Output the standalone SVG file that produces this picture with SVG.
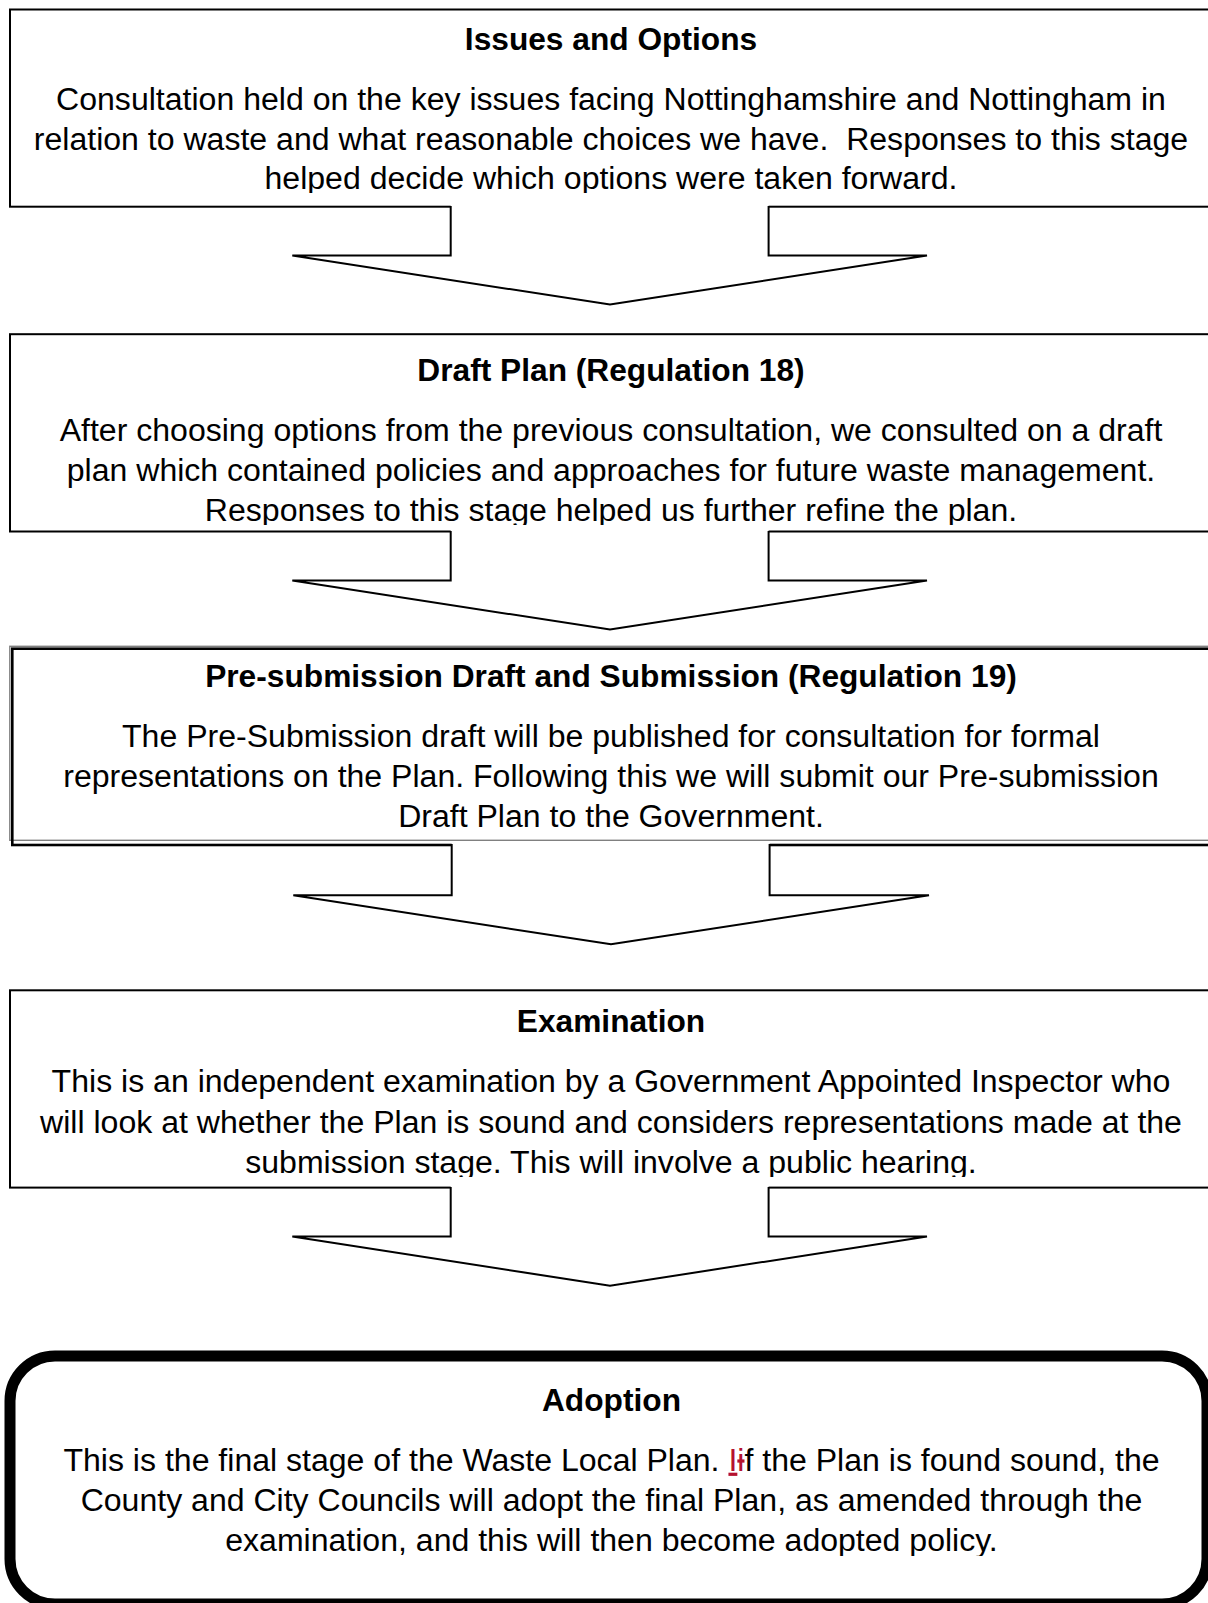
<svg xmlns="http://www.w3.org/2000/svg" width="1208" height="1603" viewBox="0 0 1208 1603">
<style>
  .box { fill: #ffffff; stroke: #000000; stroke-width: 2; }
  .t { font-family: "Liberation Sans", Arial, sans-serif; font-size: 32.05px; fill: #000000; text-anchor: middle; white-space: pre; }
  .b { font-weight: bold; font-size: 31.7px; }
  .shaft { fill: #ffffff; stroke: none; }
  .arrow { fill: none; stroke: #000000; stroke-width: 2; stroke-linejoin: miter; }
  .chg { fill: #b5122f; }
</style>
<defs>
  <clipPath id="c1"><rect x="0" y="0" width="1208" height="193"/></clipPath>
  <clipPath id="c2"><rect x="0" y="300" width="1208" height="225"/></clipPath>
  <clipPath id="c3"><rect x="0" y="640" width="1208" height="195"/></clipPath>
  <clipPath id="c4"><rect x="0" y="980" width="1208" height="197"/></clipPath>
  <clipPath id="c5"><rect x="0" y="1360" width="1208" height="196"/></clipPath>
</defs>
<rect x="0" y="0" width="1208" height="1603" fill="#ffffff"/>

<g id="node-issues">
  <rect class="box" x="10" y="9.5" width="1220" height="197.2"/>
  <g clip-path="url(#c1)">
    <text class="t b" x="611" y="50">Issues and Options</text>
    <text class="t" x="611" y="110">Consultation held on the key issues facing Nottinghamshire and Nottingham in</text>
    <text class="t" x="611" y="149.5">relation to waste and what reasonable choices we have.  Responses to this stage</text>
    <text class="t" x="611" y="189.3">helped decide which options were taken forward.</text>
  </g>
</g>

<g id="node-draft">
  <rect class="box" x="10" y="334.2" width="1220" height="197.3"/>
  <g clip-path="url(#c2)">
    <text class="t b" x="611" y="380.5">Draft Plan (Regulation 18)</text>
    <text class="t" x="611" y="440.5">After choosing options from the previous consultation, we consulted on a draft</text>
    <text class="t" x="611" y="481">plan which contained policies and approaches for future waste management.</text>
    <text class="t" x="611" y="521">Responses to this stage helped us further refine the plan.</text>
  </g>
</g>

<g id="node-presubmission">
  <rect x="9.8" y="646.3" width="1220" height="194" fill="#ffffff" stroke="#808080" stroke-width="1.4"/>
  <rect x="12.3" y="648.7" width="1220" height="196.3" fill="none" stroke="#000000" stroke-width="2.6"/>
  <g clip-path="url(#c3)">
    <text class="t b" x="611" y="687">Pre-submission Draft and Submission (Regulation 19)</text>
    <text class="t" x="611" y="747">The Pre-Submission draft will be published for consultation for formal</text>
    <text class="t" x="611" y="787">representations on the Plan. Following this we will submit our Pre-submission</text>
    <text class="t" x="611" y="826.6">Draft Plan to the Government.</text>
  </g>
</g>

<g id="node-examination">
  <rect class="box" x="10" y="990.3" width="1220" height="197.3"/>
  <g clip-path="url(#c4)">
    <text class="t b" x="611" y="1032">Examination</text>
    <text class="t" x="611" y="1092.3">This is an independent examination by a Government Appointed Inspector who</text>
    <text class="t" x="611" y="1132.5">will look at whether the Plan is sound and considers representations made at the</text>
    <text class="t" x="611" y="1173">submission stage. This will involve a public hearing.</text>
  </g>
</g>

<g id="node-adoption">
  <rect x="10" y="1356" width="1197" height="248" rx="45" ry="45" fill="#ffffff" stroke="#000000" stroke-width="11"/>
  <g clip-path="url(#c5)">
    <text class="t b" x="611.5" y="1410.5">Adoption</text>
    <text class="t" x="611.5" y="1470.7">This is the final stage of the Waste Local Plan. <tspan class="chg" text-decoration="underline">I</tspan><tspan class="chg" text-decoration="line-through">i</tspan>f the Plan is found sound, the</text>
    <text class="t" x="611.5" y="1511">County and City Councils will adopt the final Plan, as amended through the</text>
    <text class="t" x="611.5" y="1550.7">examination, and this will then become adopted policy.</text>
  </g>
</g>

<g id="connectors">
  <path class="shaft" d="M450.7,203.5 V255.5 H292.3 L610,304.6 L927,255.5 H768.6 V203.5 Z"/>
  <path class="arrow" d="M450.7,206 V255.5 H292.3 L610,304.6 L927,255.5 H768.6 V206"/>
  <path class="shaft" d="M450.7,528.5 V580.5 H292.3 L610,629.6 L927,580.5 H768.6 V528.5 Z"/>
  <path class="arrow" d="M450.7,531 V580.5 H292.3 L610,629.6 L927,580.5 H768.6 V531"/>
  <path class="shaft" d="M451.7,842.6 V895.3 H293.3 L611,944.3 L929,895.3 H769.6 V842.6 Z"/>
  <path class="arrow" d="M451.7,844 V895.3 H293.3 L611,944.3 L929,895.3 H769.6 V844"/>
  <path class="shaft" d="M450.7,1184.6 V1236.6 H292.3 L610,1285.7 L927,1236.6 H768.6 V1184.6 Z"/>
  <path class="arrow" d="M450.7,1187 V1236.6 H292.3 L610,1285.7 L927,1236.6 H768.6 V1187"/>
</g>
</svg>
